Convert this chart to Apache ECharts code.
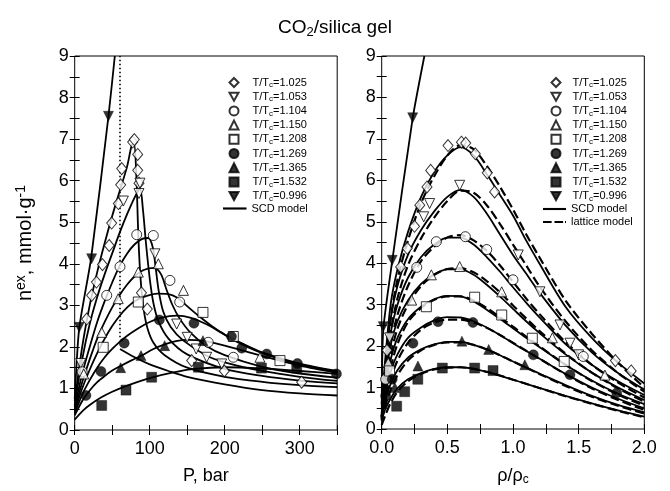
<!DOCTYPE html>
<html>
<head>
<meta charset="utf-8">
<script src="https://cdn.jsdelivr.net/npm/echarts@6/dist/echarts.min.js"></script>
<style>html,body{margin:0;padding:0;background:#fff}#c{width:670px;height:491px}</style>
</head>
<body>
<div id="c"></div>
<script>
// ---------------- DATA ----------------
const SERIES_NAMES = ['T/Tc=1.025','T/Tc=1.053','T/Tc=1.104','T/Tc=1.150','T/Tc=1.208','T/Tc=1.269','T/Tc=1.365','T/Tc=1.532','T/Tc=0.996'];

// Left panel: excess adsorption vs pressure (P bar, n mmol/g) — experimental points
const L_PTS_1025 = [[16,2.67],[22.6,3.24],[29,3.56],[37,3.98],[46,4.44],[49.3,4.98],[58.2,5.45],[61.3,5.9],[62.7,6.29],[77.3,6.93],[79.5,6.99],[84,6.63],[84,6.25],[85.7,5.94],[89,3.3],[96.8,2.91],[156,1.67],[199.5,1.42],[302.6,1.15]];
const L_PTS_1053 = [[8,1.6],[64.9,5.51],[87,5.94],[85.7,5.69],[107,4.24],[136,2.55],[150,2.23],[162,1.95],[176,1.75],[196,1.59]];
const L_PTS_1104 = [[10,1.4],[42.7,3.24],[60.4,3.93],[82.7,4.7],[104.8,4.68],[127,3.6],[140,3.08],[178,2.11],[211.5,1.75]];
const L_PTS_1150 = [[12,1.35],[36,2.35],[58,3.16],[84.8,3.8],[111.5,4.0],[145,3.36],[247,1.75]];
const L_PTS_1208 = [[38,1.99],[84.8,3.08],[171,2.83],[211.5,2.25],[273.7,1.67]];
const L_PTS_1269 = [[15,0.83],[35,1.41],[66,2.09],[112.9,2.65],[159,2.57],[209,2.25],[222.7,1.97],[256,1.83],[297,1.6],[349,1.35]];
const L_PTS_1365 = [[61.3,1.5],[88.4,1.79],[120,2.03],[171,2.15]];
const L_PTS_1532 = [[36,0.59],[68.4,0.96],[102.6,1.27],[165,1.51],[249,1.49],[296,1.49]];
const L_PTS_0996 = [[6,2.47],[22.6,4.12],[45,7.55]];

// Left panel: SCD model curves [P, n]
const L_SCD_1025 = [[0,0.7],[10,2.0],[20,3.0],[30,3.8],[40,4.5],[50,5.15],[60,5.75],[70,6.35],[76,6.85],[79,6.9],[82,6.2],[85,4.6],[88,3.6],[92,2.9],[97,2.45],[105,2.1],[120,1.8],[150,1.5],[200,1.28],[250,1.16],[300,1.08],[350,1.03]];
const L_SCD_1053 = [[0,0.6],[10,1.7],[20,2.55],[30,3.2],[40,3.75],[50,4.25],[60,4.75],[70,5.2],[80,5.6],[87,5.8],[91,5.3],[95,4.5],[100,3.65],[105,3.05],[112,2.6],[125,2.2],[150,1.82],[200,1.47],[250,1.3],[300,1.19],[350,1.12]];
const L_SCD_1104 = [[0,0.55],[10,1.35],[20,2.0],[30,2.6],[40,3.1],[50,3.55],[60,3.95],[70,4.25],[80,4.47],[90,4.6],[98,4.62],[104,4.4],[108,3.9],[112,3.35],[118,2.85],[128,2.48],[145,2.15],[175,1.8],[200,1.63],[250,1.42],[300,1.28],[350,1.18]];
const L_SCD_1150 = [[0,0.5],[10,1.15],[20,1.7],[30,2.2],[40,2.6],[50,2.95],[60,3.25],[70,3.5],[80,3.7],[92,3.85],[106,3.9],[115,3.75],[122,3.4],[130,3.02],[140,2.68],[155,2.33],[175,2.03],[200,1.8],[250,1.52],[300,1.36],[350,1.26]];
const L_SCD_1208 = [[0,0.45],[10,1.0],[20,1.45],[30,1.85],[40,2.2],[50,2.5],[60,2.75],[70,2.95],[80,3.1],[95,3.22],[110,3.28],[125,3.27],[137,3.18],[150,2.98],[165,2.75],[185,2.47],[210,2.18],[250,1.85],[300,1.58],[350,1.4]];
const L_SCD_1269 = [[0,0.4],[10,0.85],[20,1.2],[30,1.5],[40,1.75],[50,1.95],[60,2.12],[70,2.27],[85,2.45],[100,2.6],[115,2.7],[136,2.75],[155,2.7],[175,2.55],[200,2.3],[225,2.07],[250,1.87],[300,1.6],[350,1.42]];
const L_SCD_1365 = [[0,0.35],[10,0.7],[20,0.95],[30,1.15],[40,1.3],[50,1.43],[60,1.53],[75,1.67],[90,1.8],[105,1.95],[120,2.06],[135,2.14],[150,2.17],[170,2.15],[200,2.03],[250,1.78],[300,1.55],[350,1.38]];
const L_SCD_1532 = [[0,0.25],[10,0.45],[20,0.6],[35,0.78],[50,0.92],[70,1.07],[100,1.25],[130,1.38],[160,1.47],[200,1.51],[250,1.48],[300,1.42],[350,1.35]];
const L_SCD_0996 = [[0,0.75],[6,2.45],[22,4.15],[45,7.55],[53.5,9]];
const L_SCD_0996_HIGH = [[60.4,1.95],[80,1.75],[100,1.58],[125,1.42],[150,1.28],[200,1.1],[250,0.96],[300,0.88],[350,0.83]];
const L_DOTTED = [[60.4,2.23],[60.4,9]];

// Right panel: excess adsorption vs reduced density — experimental points
const R_PTS_1025 = [[0.04,1.9],[0.144,3.91],[0.195,4.36],[0.25,4.89],[0.29,5.4],[0.345,5.84],[0.373,6.24],[0.505,6.84],[0.607,6.92],[0.64,6.9],[0.713,6.64],[0.804,6.18],[0.86,5.72],[1.78,1.65],[1.9,1.4]];
const R_PTS_1053 = [[0.06,2.2],[0.32,5.12],[0.365,5.44],[0.594,5.88],[1.04,4.2],[1.205,3.31],[1.358,2.51],[1.434,2.07],[1.5,1.79]];
const R_PTS_1104 = [[0.03,1.2],[0.267,3.9],[0.416,4.52],[0.637,4.64],[0.8,4.33],[1.0,3.6],[1.535,1.75]];
const R_PTS_1150 = [[0.05,1.6],[0.228,3.11],[0.378,3.72],[0.594,3.92],[0.914,3.31],[1.3,2.2],[1.7,1.3]];
const R_PTS_1208 = [[0.06,1.4],[0.34,2.95],[0.708,3.18],[0.914,2.75],[1.147,2.19],[1.39,1.63]];
const R_PTS_1269 = [[0.03,0.8],[0.08,1.2],[0.238,2.07],[0.429,2.59],[0.695,2.57],[1.155,1.79],[1.434,1.31],[1.79,0.87]];
const R_PTS_1365 = [[0.1,1.0],[0.276,1.52],[0.611,2.12],[0.815,1.92],[1.09,1.55]];
const R_PTS_1532 = [[0.114,0.55],[0.175,0.9],[0.275,1.2],[0.462,1.47],[0.708,1.47],[0.848,1.41]];
const R_PTS_0996 = [[0.012,2.47],[0.08,4.07],[0.236,7.51]];

// Right panel model curves, sampled at these reduced densities
const RHO = [0,0.03,0.07,0.12,0.2,0.3,0.4,0.5,0.6,0.7,0.8,0.9,1.0,1.1,1.2,1.4,1.6,1.8,2.0];
const R_SCD_1025 = [0.6,1.8,3.05,3.85,4.75,5.6,6.2,6.6,6.8,6.6,6.15,5.65,5.15,4.55,4.0,2.95,2.2,1.6,1.1];
const R_SCD_1053 = [0.55,1.6,2.7,3.45,4.2,4.8,5.25,5.6,5.77,5.6,5.2,4.7,4.2,3.75,3.3,2.5,1.85,1.35,0.95];
const R_SCD_1104 = [0.5,1.4,2.35,3.0,3.65,4.15,4.45,4.62,4.62,4.45,4.15,3.8,3.42,3.05,2.7,2.05,1.55,1.15,0.82];
const R_SCD_1150 = [0.45,1.25,2.05,2.6,3.1,3.5,3.73,3.85,3.85,3.72,3.48,3.2,2.9,2.6,2.32,1.8,1.36,1.0,0.7];
const R_SCD_1208 = [0.42,1.05,1.7,2.2,2.65,2.95,3.13,3.21,3.2,3.08,2.88,2.66,2.43,2.2,1.98,1.55,1.17,0.85,0.6];
const R_SCD_1269 = [0.38,0.9,1.4,1.8,2.2,2.45,2.62,2.7,2.69,2.6,2.45,2.27,2.07,1.88,1.7,1.33,1.0,0.73,0.5];
const R_SCD_1365 = [0.33,0.72,1.1,1.42,1.72,1.92,2.04,2.1,2.1,2.03,1.92,1.78,1.63,1.48,1.34,1.06,0.8,0.58,0.4];
const R_SCD_1532 = [0.25,0.5,0.75,0.98,1.2,1.35,1.45,1.49,1.49,1.45,1.38,1.29,1.19,1.09,0.99,0.8,0.62,0.45,0.3];
const R_SCD_0996 = [[0,0.6],[0.012,2.4],[0.08,4.05],[0.236,7.5],[0.325,9]];

const R_LAT_1025 = [0.3,1.4,2.7,3.6,4.55,5.45,6.1,6.6,6.85,6.75,6.35,5.85,5.3,4.7,4.15,3.1,2.3,1.6,1.0];
const R_LAT_1053 = [0.3,1.25,2.35,3.15,3.95,4.6,5.1,5.5,5.75,5.7,5.4,4.95,4.45,3.95,3.45,2.6,1.9,1.35,0.9];
const R_LAT_1104 = [0.28,1.1,2.05,2.75,3.45,4.05,4.4,4.62,4.68,4.55,4.3,3.95,3.55,3.15,2.78,2.1,1.55,1.12,0.76];
const R_LAT_1150 = [0.26,0.98,1.8,2.42,3.0,3.45,3.72,3.86,3.88,3.78,3.57,3.3,2.98,2.67,2.37,1.82,1.36,0.98,0.66];
const R_LAT_1208 = [0.24,0.85,1.5,2.05,2.58,2.92,3.12,3.2,3.2,3.1,2.92,2.7,2.47,2.23,2.0,1.55,1.16,0.83,0.56];
const R_LAT_1269 = [0.22,0.72,1.22,1.65,2.08,2.4,2.57,2.64,2.64,2.57,2.44,2.27,2.08,1.89,1.7,1.32,0.98,0.7,0.46];
const R_LAT_1365 = [0.2,0.58,0.97,1.3,1.65,1.9,2.03,2.09,2.09,2.03,1.92,1.78,1.63,1.48,1.33,1.04,0.78,0.56,0.37];
const R_LAT_1532 = [0.1,0.35,0.64,0.9,1.15,1.33,1.44,1.48,1.49,1.45,1.38,1.29,1.19,1.09,0.99,0.79,0.61,0.44,0.28];

const L_X_TICKS = [0,100,200,300];
const R_X_TICKS = [0.0,0.5,1.0,1.5,2.0];

// ---------------- STYLE ----------------
const FONT = "'Liberation Sans', Arial, Helvetica, sans-serif";
const DOWN_TRI = 'path://M0,0L10,0L5,9Z';
const MARKS = {
  'T/Tc=1.025': {symbol:'diamond', filled:false, rot:0, size:[10,12], icon:'diamond'},
  'T/Tc=1.053': {symbol:'triangle', filled:false, rot:180, size:10, icon:DOWN_TRI},
  'T/Tc=1.104': {symbol:'circle', filled:false, rot:0, size:10, icon:'circle'},
  'T/Tc=1.150': {symbol:'triangle', filled:false, rot:0, size:10, icon:'triangle'},
  'T/Tc=1.208': {symbol:'rect', filled:false, rot:0, size:10, icon:'rect'},
  'T/Tc=1.269': {symbol:'circle', filled:true, rot:0, size:10, icon:'circle'},
  'T/Tc=1.365': {symbol:'triangle', filled:true, rot:0, size:10, icon:'triangle'},
  'T/Tc=1.532': {symbol:'rect', filled:true, rot:0, size:10, icon:'rect'},
  'T/Tc=0.996': {symbol:'triangle', filled:true, rot:180, size:10, icon:DOWN_TRI}
};

function scatter(name, data, gi) {
  const m = MARKS[name];
  return {
    type:'scatter', name, data, xAxisIndex: gi*2, yAxisIndex: gi*2,
    symbol:m.symbol, symbolRotate:m.rot, symbolSize:m.size, z:5,
    itemStyle: m.filled ? {color:'#000', borderColor:'#000', borderWidth:0.5}
                        : {color:'#fff', borderColor:'#000', borderWidth:1},
    silent:true
  };
}
function line(name, data, gi, dashed, smooth) {
  return {
    type:'line', name, data, xAxisIndex: gi*2, yAxisIndex: gi*2,
    symbol:'none', smooth: smooth === undefined ? 0.3 : smooth, z:3, silent:true,
    lineStyle: {color:'#000', width: dashed ? 2.2 : 1.8, type: dashed ? [9,4] : 'solid'},
    itemStyle: {color:'#000'}
  };
}
const zip = (xs, ys) => xs.map((x,i)=>[x, ys[i]]);

const series = [];
[L_SCD_1025,L_SCD_1053,L_SCD_1104,L_SCD_1150,L_SCD_1208,L_SCD_1269,L_SCD_1365,L_SCD_1532].forEach(d=>series.push(line('SCD model', d, 0, false)));
series.push(line('SCD model', L_SCD_0996, 0, false, 0.2));
series.push(line('SCD model', L_SCD_0996_HIGH, 0, false));
series.push({type:'line', name:'dotted', data:L_DOTTED, xAxisIndex:0, yAxisIndex:0, symbol:'none', silent:true, z:3,
  lineStyle:{color:'#000', width:1.6, type:[1.5,2.5]}});
[R_LAT_1025,R_LAT_1053,R_LAT_1104,R_LAT_1150,R_LAT_1208,R_LAT_1269,R_LAT_1365,R_LAT_1532].forEach(d=>series.push(line('lattice model', zip(RHO,d), 1, true)));
[R_SCD_1025,R_SCD_1053,R_SCD_1104,R_SCD_1150,R_SCD_1208,R_SCD_1269,R_SCD_1365,R_SCD_1532].forEach(d=>series.push(line('SCD model', zip(RHO,d), 1, false)));
series.push(line('SCD model', R_SCD_0996, 1, false, 0.2));
const LP = [L_PTS_1025,L_PTS_1053,L_PTS_1104,L_PTS_1150,L_PTS_1208,L_PTS_1269,L_PTS_1365,L_PTS_1532,L_PTS_0996];
const RP = [R_PTS_1025,R_PTS_1053,R_PTS_1104,R_PTS_1150,R_PTS_1208,R_PTS_1269,R_PTS_1365,R_PTS_1532,R_PTS_0996];
SERIES_NAMES.forEach((n,i)=>{ series.push(scatter(n, LP[i], 0)); series.push(scatter(n, RP[i], 1)); });

const GRID_TOP = 56, GRID_H = 374;
const tickStyle = {show:true, inside:true, length:5, lineStyle:{color:'#000', width:1}};
const labelStyle = {color:'#000', fontSize:18, fontFamily:FONT};

function legendFmt(name) {
  const m = name.match(/^T\/Tc(=.*)$/);
  if (m) return '{a|T/T}{s|c}{a|' + m[1] + '}';
  return '{a|' + name + '}';
}
const legendRich = {
  a:{fontSize:11, fontFamily:FONT, color:'#000', lineHeight:13},
  s:{fontSize:8, fontFamily:FONT, color:'#000', lineHeight:13, padding:[5,0,0,0]}
};
const markerLegendData = SERIES_NAMES.map(n => ({name:n, icon:MARKS[n].icon}));
function markerLegend(left, padLeft) {
  return {orient:'vertical', left, top:71, itemWidth:9, itemHeight:9, itemGap:1.2, selectedMode:false,
    data: markerLegendData, formatter:legendFmt, textStyle:{rich:legendRich, padding:[0,0,0,padLeft]}};
}
const SOLID_ICON = 'path://M0,0h24v2.2h-24z';
const DASH_ICON = 'path://M0,0h9v2.2h-9z M12,0h9v2.2h-9z M23,0h1v2.2h-1z';

const option = {
  animation:false,
  backgroundColor:'#fff',
  title: {
    text:'CO{s|2}/silica gel', left:'center', top:12,
    textStyle:{fontSize:19, fontWeight:'normal', fontFamily:FONT, color:'#000',
      rich:{s:{fontSize:13, fontFamily:FONT, color:'#000', padding:[9,0,0,0]}}}
  },
  grid: [
    {left:74.7, top:GRID_TOP, width:262.5, height:GRID_H, show:true, borderColor:'#000', borderWidth:1},
    {left:381.7, top:GRID_TOP, width:262.6, height:GRID_H, show:true, borderColor:'#000', borderWidth:1}
  ],
  legend: [
    markerLegend(223.5, 9),
    markerLegend(545.5, 7),
    {orient:'vertical', left:218, top:198, itemWidth:23.5, itemHeight:2.2, itemGap:1.5, selectedMode:false,
     data:[{name:'SCD model', icon:SOLID_ICON, itemStyle:{color:'#000', borderWidth:0}}],
     formatter:legendFmt, textStyle:{rich:legendRich}},
    {orient:'vertical', left:538, top:198.5, itemWidth:23, itemHeight:2.2, itemGap:2, selectedMode:false,
     data:[{name:'SCD model', icon:SOLID_ICON, itemStyle:{color:'#000', borderWidth:0}},
           {name:'lattice model', icon:DASH_ICON, itemStyle:{color:'#000', borderWidth:0}}],
     formatter:legendFmt, textStyle:{rich:legendRich}}
  ],
  xAxis: [
    {gridIndex:0, type:'value', position:'bottom', min:0, max:350, interval:50,
     axisLine:{show:false}, axisTick:tickStyle, splitLine:{show:false},
     axisLabel:Object.assign({margin:10, formatter:v=>L_X_TICKS.includes(v)?String(v):''}, labelStyle),
     name:'P, bar', nameLocation:'middle', nameGap:37, nameTextStyle:{fontSize:18, fontFamily:FONT, color:'#000'}},
    {gridIndex:0, type:'value', position:'top', min:0, max:350, interval:50,
     axisLine:{show:false}, axisTick:tickStyle, splitLine:{show:false}, axisLabel:{show:false}},
    {gridIndex:1, type:'value', position:'bottom', min:0, max:2, interval:0.25,
     axisLine:{show:false}, axisTick:tickStyle, splitLine:{show:false},
     axisLabel:Object.assign({margin:10, formatter:v=>R_X_TICKS.some(t=>Math.abs(t-v)<1e-9)?v.toFixed(1):''}, labelStyle),
     name:'ρ/ρ{s|c}', nameLocation:'middle', nameGap:37,
     nameTextStyle:{fontSize:18, fontFamily:FONT, color:'#000', rich:{s:{fontSize:12, fontFamily:FONT, color:'#000', padding:[8,0,0,0]}}}},
    {gridIndex:1, type:'value', position:'top', min:0, max:2, interval:0.25,
     axisLine:{show:false}, axisTick:tickStyle, splitLine:{show:false}, axisLabel:{show:false}}
  ],
  yAxis: [
    {gridIndex:0, type:'value', position:'left', min:0, max:9, interval:0.5,
     axisLine:{show:false}, axisTick:tickStyle, splitLine:{show:false},
     axisLabel:Object.assign({margin:6, formatter:v=>Number.isInteger(v)?String(v):''}, labelStyle),
     name:'n{sup|ex}, mmol·g{sup|-1}', nameLocation:'middle', nameGap:37, nameRotate:90,
     nameTextStyle:{fontSize:20, fontFamily:FONT, color:'#000', rich:{sup:{fontSize:14, fontFamily:FONT, color:'#000', padding:[0,0,10,0]}}}},
    {gridIndex:0, type:'value', position:'right', min:0, max:9, interval:0.5,
     axisLine:{show:false}, axisTick:tickStyle, splitLine:{show:false}, axisLabel:{show:false}},
    {gridIndex:1, type:'value', position:'left', min:0, max:9, interval:0.5,
     axisLine:{show:false}, axisTick:tickStyle, splitLine:{show:false},
     axisLabel:Object.assign({margin:6, formatter:v=>Number.isInteger(v)?String(v):''}, labelStyle)},
    {gridIndex:1, type:'value', position:'right', min:0, max:9, interval:0.5,
     axisLine:{show:false}, axisTick:tickStyle, splitLine:{show:false}, axisLabel:{show:false}}
  ],
  series
};
const chart = echarts.init(document.getElementById('c'), null, {renderer:'canvas'});
chart.setOption(option);
</script>
</body>
</html>
